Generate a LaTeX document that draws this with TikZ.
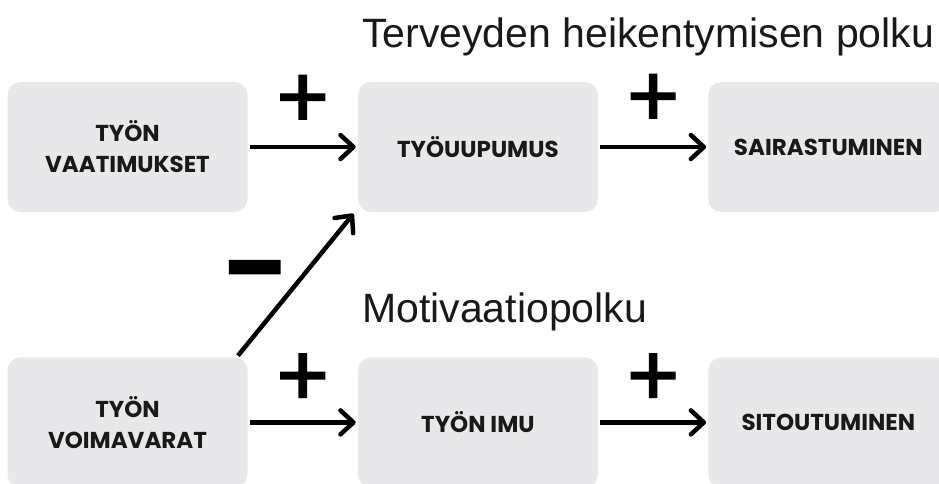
\documentclass[tikz,border=0pt]{standalone}
\usepackage{fontspec}
\setmainfont{Liberation Sans}
\newfontfamily\boxfont{Poppins}
\newfontfamily\signfont{Poppins}[UprightFeatures={FakeBold=1.5}, BoldFeatures={FakeBold=2}]
\usetikzlibrary{positioning,calc,arrows.meta}
\tikzset{>={Straight Barb[length=13pt,width=24pt,line join=round,line cap=round]}}
\definecolor{boxgray}{RGB}{232,232,234}
\tikzset{
  stage/.style={fill=boxgray, rounded corners=13pt, minimum width=240pt, minimum height=130pt,
    align=center, text=black!90, font=\boxfont\bfseries\fontsize{23}{31}\selectfont},
  link/.style={->, line width=4.5pt, shorten <=2pt, shorten >=2pt},
  sign/.style={font=\signfont\fontsize{86}{86}\selectfont, inner sep=0pt},
  pathname/.style={font=\fontsize{41}{41}\selectfont, text=black!90, anchor=base west, inner sep=0pt}
}

\begin{document}
\begin{tikzpicture}[x=1pt,y=-1pt]
\useasboundingbox (0,0) rectangle (939,483);
\node[pathname] (terv) at (362,47) {Terveyden heikentymisen polku};
\node[pathname] (moti) at (362,322) {Motivaatiopolku};
\node[stage] (vaat) at (127.5,147) {TYÖN\\VAATIMUKSET};
\node[stage, right=110pt of vaat] (uup) {TYÖUUPUMUS};
\node[stage, right=110pt of uup] (sair) {SAIRASTUMINEN};
\node[stage, below=145pt of vaat] (voim) {TYÖN\\VOIMAVARAT};
\node[stage, right=110pt of voim] (imu) {TYÖN IMU};
\node[stage, right=110pt of imu] (sito) {SITOUTUMINEN};
\draw[link] (vaat) -- node[sign, midway, yshift=45pt] {+} (uup);
\draw[link] (uup) -- node[sign, midway, yshift=46pt] {+} (sair);
\draw[link] (voim) -- node[sign, midway, yshift=42pt] {+} (imu);
\draw[link] (imu) -- node[sign, midway, yshift=42pt] {+} (sito);
\draw[link] ($(voim.north east)+(-11,0)$) -- node[sign, midway, xshift=-41pt, yshift=5pt, font=\signfont\bfseries\fontsize{90}{90}\selectfont] {–} ($(uup.south west)+(-3,0)$);
\end{tikzpicture}
\end{document}
